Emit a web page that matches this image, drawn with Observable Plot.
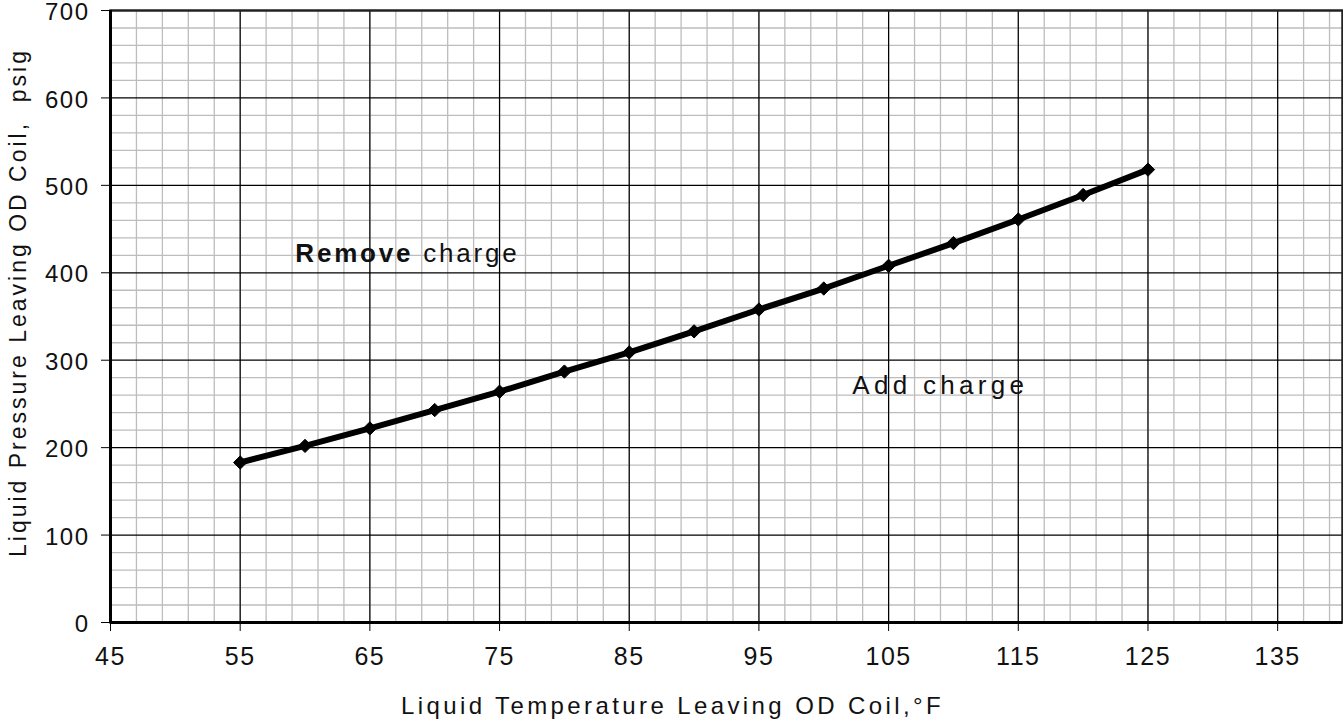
<!DOCTYPE html>
<html>
<head>
<meta charset="utf-8">
<script src="https://cdn.jsdelivr.net/npm/d3@7"></script>
<script src="https://cdn.jsdelivr.net/npm/@observablehq/plot@0.6"></script>
<style>
  html, body { margin: 0; padding: 0; background: #fff; }
</style>
</head>
<body>
<div id="chart"></div>
<script>
// Data
const temperatures = [55, 60, 65, 70, 75, 80, 85, 90, 95, 100, 105, 110, 115, 120, 125];
const pressures = [183, 202, 222, 243, 264, 287, 309, 333, 358, 382, 408, 434, 461, 489, 518];
const xTicks = [45, 55, 65, 75, 85, 95, 105, 115, 125, 135];
const yTicks = [0, 100, 200, 300, 400, 500, 600, 700];
const noteTexts = ["Remove charge", "Add charge"];
const noteX = [59.25, 102.2];
const noteY = [412, 261];
const xTitle = "Liquid Temperature Leaving OD Coil,°F";
const yTitle = "Liquid Pressure Leaving OD Coil,  psig";

const data = temperatures.map((t, i) => ({t, p: pressures[i]}));
const notes = noteTexts.map((s, i) => ({s, x: noteX[i], y: noteY[i]}));

const xMinor = d3.range(47, 140, 2);
const yMinor = d3.range(20, 700, 20).filter(v => v % 100 !== 0);

const chart = Plot.plot({
  width: 1343,
  height: 719,
  marginLeft: 110,
  marginRight: 1,
  marginTop: 10,
  marginBottom: 97,
  style: {fontFamily: "'Liberation Sans', Arial, sans-serif", fontSize: "25px", color: "#111", background: "#fff"},
  x: {domain: [45, 140]},
  y: {domain: [0, 700]},
  marks: [
    Plot.gridX(xMinor, {stroke: "#bdbdbd", strokeOpacity: 1, strokeWidth: 1.3}),
    Plot.gridY(yMinor, {stroke: "#bdbdbd", strokeOpacity: 1, strokeWidth: 1.3}),
    Plot.gridX(xTicks, {stroke: "#000", strokeOpacity: 1, strokeWidth: 1.2}),
    Plot.gridY(yTicks, {stroke: "#000", strokeOpacity: 1, strokeWidth: 1.2}),
    Plot.frame({stroke: "#222", strokeWidth: 2.5}),
    Plot.ruleX([45], {stroke: "#000", strokeWidth: 3}),
    Plot.ruleY([0], {stroke: "#000", strokeWidth: 3}),
    Plot.axisX(xTicks, {tickSize: 9, tickPadding: 16, label: null, stroke: "#000"}),
    Plot.axisY(yTicks, {tickSize: 9, tickPadding: 12, label: null, stroke: "#000", fontSize: 24}),
    Plot.line(data, {x: "t", y: "p", stroke: "#000", strokeWidth: 6}),
    Plot.dot(data, {x: "t", y: "p", symbol: "diamond2", r: 6, fill: "#000", stroke: "#000", strokeWidth: 1}),
    Plot.text(notes, {x: "x", y: "y", text: "s", textAnchor: "start", lineAnchor: "bottom", fontSize: 26, fill: "#111"}),
    Plot.text([xTitle], {frameAnchor: "bottom", textAnchor: "middle", dx: -54, dy: 91, lineAnchor: "bottom", fontSize: 24, fill: "#111"}),
    Plot.text([yTitle], {frameAnchor: "left", textAnchor: "middle", rotate: -90, dx: -85, dy: -14, lineAnchor: "bottom", fontSize: 23, fill: "#111"})
  ]
});

// Letter spacing and the bold "Remove"
d3.select(chart).selectAll("text").each(function() {
  const el = d3.select(this);
  const s = el.text();
  if (s === "Remove charge") {
    el.attr("letter-spacing", "2.8px");
    el.text(null);
    el.append("tspan").attr("font-weight", "bold").text("Remove");
    el.append("tspan").text(" charge");
  } else if (s === "Add charge") {
    el.attr("letter-spacing", "4.3px");
  } else if (s === xTitle) {
    el.attr("letter-spacing", "3.4px");
  } else if (s === yTitle) {
    el.attr("letter-spacing", "3px");
  } else if (/^\d+$/.test(s)) {
    el.attr("letter-spacing", "1.5px");
  }
});
// nudge the y tick labels 2px down so the top one stays inside the picture
d3.select(chart).selectAll('g[aria-label="y-axis tick label"] text').attr("dy", "2");

document.getElementById("chart").append(chart);
</script>
</body>
</html>
